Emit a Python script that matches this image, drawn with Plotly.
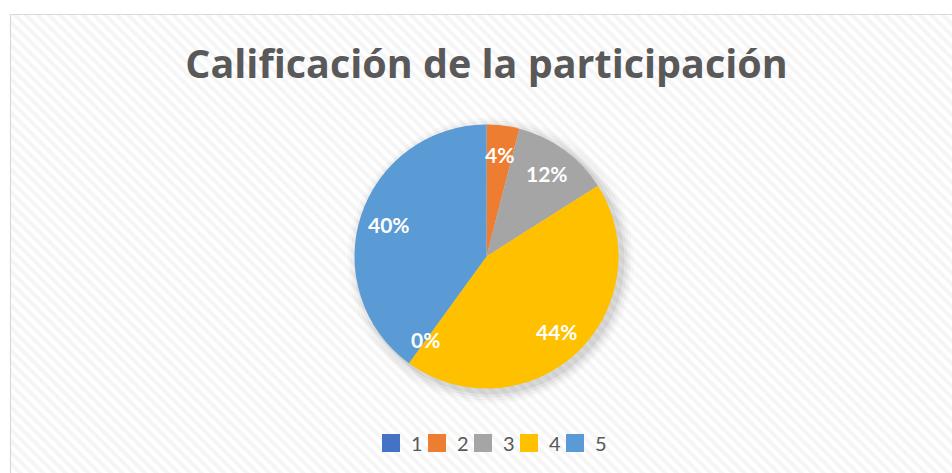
import math
import plotly.graph_objects as go

# ---- data ----
title_text = "Calificación de la participación"
legend_labels = ["1", "2", "3", "4", "5"]
legend_colors = ["#4472C4", "#ED7D31", "#A5A5A5", "#FFC000", "#5B9BD5"]
# slice order as drawn (clockwise from 12 o'clock)
slice_labels = ["2", "3", "4", "1", "5"]
slice_values = [1, 3, 11, 0, 10]

W, H = 952, 473
color_of = dict(zip(legend_labels, legend_colors))

# pie geometry (pixels)
CX, CY, R = 486.5, 473 - 256.5, 132

fig = go.Figure()

# hatched chart-area background with light border
fig.add_trace(go.Scatter(
    x=[10.5, W + 5, W + 5, 10.5, 10.5],
    y=[-5, -5, H - 14.5, H - 14.5, -5],
    mode="lines", fill="toself",
    line=dict(color="#d9d9d9", width=1.2),
    fillpattern=dict(shape="\\", fgcolor="#ececec", bgcolor="#ffffff",
                     size=8, solidity=0.5),
    hoverinfo="skip", showlegend=False,
))

# soft shadow behind the pie
for k, a in [(11, 0.02), (8, 0.03), (5, 0.045), (2, 0.06)]:
    rr = R + k
    cx, cy = CX + 4, CY - 4
    fig.add_trace(go.Pie(
        values=[1], marker=dict(colors=[f"rgba(0,0,0,{a})"], line=dict(width=0)),
        textinfo="none", hoverinfo="skip", showlegend=False, sort=False,
        domain=dict(x=[(cx - rr) / W, (cx + rr) / W], y=[(cy - rr) / H, (cy + rr) / H]),
    ))

fig.add_trace(go.Pie(
    labels=slice_labels, values=slice_values,
    marker=dict(colors=[color_of[l] for l in slice_labels], line=dict(width=0)),
    sort=False, direction="clockwise", rotation=0,
    textinfo="none", showlegend=False,
    domain=dict(x=[(CX - R) / W, (CX + R) / W], y=[(CY - R) / H, (CY + R) / H]),
))

# legend entries in category order
for lab, col in zip(legend_labels, legend_colors):
    fig.add_trace(go.Scatter(
        x=[None], y=[None], mode="markers", name=lab,
        marker=dict(symbol="square", size=16, color=col,
                    line=dict(color=col, width=2)),
        showlegend=True,
    ))
# blank spacer entry so the last legend label is not clipped
fig.add_trace(go.Scatter(
    x=[None], y=[None], mode="markers", name=" ",
    marker=dict(symbol="square", size=14, color="rgba(0,0,0,0)"),
    showlegend=True, hoverinfo="skip",
))

# data labels (percent) placed along each slice's mid-angle
total = sum(slice_values)
cum = 0
for lab, v in zip(slice_labels, slice_values):
    mid = (cum + v / 2) / total * 2 * math.pi
    cum += v
    rl = 0.78 * R
    fig.add_annotation(
        x=CX + rl * math.sin(mid), y=CY + rl * math.cos(mid),
        xref="x", yref="y", showarrow=False,
        text=f"<b>{round(v / total * 100)}%</b>",
        font=dict(family="Lato", size=21, color="white"),
    )

fig.update_layout(
    width=W, height=H, autosize=False,
    margin=dict(l=0, r=0, t=0, b=0),
    paper_bgcolor="white", plot_bgcolor="rgba(0,0,0,0)",
    xaxis=dict(range=[0, W], visible=False, fixedrange=True),
    yaxis=dict(range=[0, H], visible=False, fixedrange=True),
    title=dict(text=f"<b>{title_text}</b>", x=CX / W, xanchor="center",
               y=1 - 64 / H, yanchor="middle",
               font=dict(family="Open Sans", size=39.5, color="#595959")),
    legend=dict(orientation="h", x=509 / W, xanchor="center",
                y=30 / H, yanchor="middle",
                font=dict(family="Lato", size=20, color="#595959"),
                bgcolor="rgba(0,0,0,0)", entrywidth=1, itemwidth=30),
    showlegend=True,
)

fig.write_html(
    "out.html",
    config={"displayModeBar": False},
    post_script="document.body.style.margin='0';document.body.style.overflow='hidden';",
)
